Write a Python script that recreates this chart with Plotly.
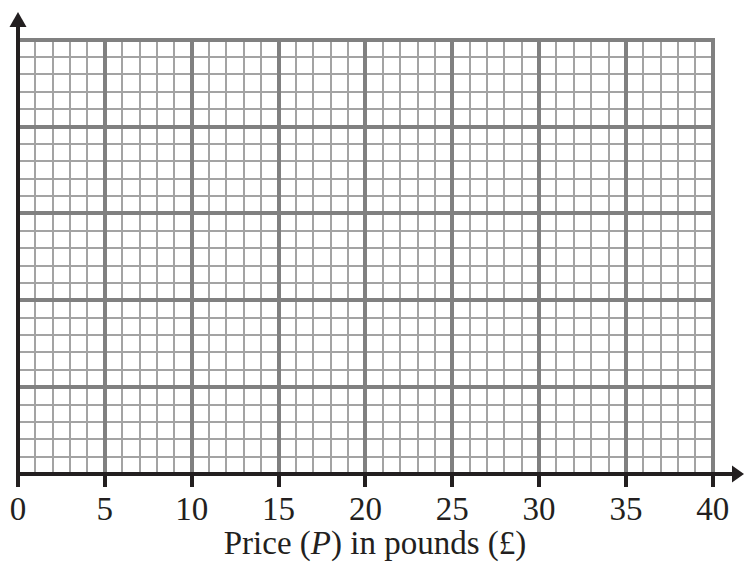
import plotly.graph_objects as go

# Price axis: labelled every £5 up to £40
price_ticks = [0, 5, 10, 15, 20, 25, 30, 35, 40]
price_labels = [str(v) for v in price_ticks]
x_title = "Price (<i>P</i>) in pounds (£)"

# Graph-paper extent: 40 small squares across, 25 up; bold line every 5 squares
grid_x_end = 40
grid_y_end = 25
major_step = 5
minor_step = 1

# Page geometry (pixels)
W, H = 744, 562
L, R, T, B = 16, 10, 27, 75
UNIT = 17.37          # pixels per small square
ORIGIN_X, ORIGIN_Y = 18, 474   # where (0, 0) sits on the page
INK = "#231f20"
AXIS_W = 4
MAJOR_GREY = "#808080"
MINOR_GREY = "#a3a3a3"
SERIF = "Liberation Serif"

plot_w = W - L - R
plot_h = H - T - B


def px_x(p):
    return (p - L) / plot_w


def px_y(p):
    return (H - B - p) / plot_h


# axis subplot: the zero lines act as the two axes
ax_x0 = -(ORIGIN_X - L) / UNIT
ax_x1 = ax_x0 + plot_w / UNIT
ax_y0 = -((H - B) - ORIGIN_Y) / UNIT
ax_y1 = ax_y0 + plot_h / UNIT
pad = 2 / UNIT  # keep the outer border lines fully inside the grid area

fig = go.Figure()
# grid subplot (drawn first) and axis subplot (drawn on top)
fig.add_trace(go.Scatter(x=[], y=[], xaxis="x", yaxis="y", showlegend=False, hoverinfo="skip"))
fig.add_trace(go.Scatter(x=[], y=[], xaxis="x2", yaxis="y2", showlegend=False, hoverinfo="skip"))

grid_common = dict(
    tick0=0, dtick=major_step,
    showgrid=True, gridcolor=MAJOR_GREY, gridwidth=4,
    minor=dict(tick0=0, dtick=minor_step, showgrid=True, gridcolor=MINOR_GREY, gridwidth=2),
    showticklabels=False, ticks="", zeroline=False, showline=False, fixedrange=True,
)

fig.update_layout(
    width=W, height=H,
    margin=dict(l=L, r=R, t=T, b=B, pad=0),
    paper_bgcolor="white", plot_bgcolor="rgba(0,0,0,0)",
    showlegend=False,
    xaxis=dict(
        domain=[px_x(ORIGIN_X), px_x(ORIGIN_X + (grid_x_end + pad) * UNIT)],
        range=[0, grid_x_end + pad], anchor="y", **grid_common,
    ),
    yaxis=dict(
        domain=[px_y(ORIGIN_Y), px_y(ORIGIN_Y - (grid_y_end + pad) * UNIT)],
        range=[0, grid_y_end + pad], anchor="x", **grid_common,
    ),
    xaxis2=dict(
        domain=[0, 1], range=[ax_x0, ax_x1], anchor="y2",
        showline=False, zeroline=True, zerolinecolor=INK, zerolinewidth=AXIS_W,
        ticks="inside", ticklen=(H - B) - ORIGIN_Y, tickwidth=AXIS_W, tickcolor=INK,
        tickmode="array", tickvals=price_ticks, ticktext=price_labels,
        tickfont=dict(family=SERIF, size=33, color=INK), ticklabelstandoff=-1,
        showgrid=False, fixedrange=True,
        title=dict(text=x_title, font=dict(family=SERIF, size=33, color=INK), standoff=3),
    ),
    yaxis2=dict(
        domain=[0, 1], range=[ax_y0, ax_y1], anchor="x2",
        showline=False, zeroline=True, zerolinecolor=INK, zerolinewidth=AXIS_W,
        ticks="", showticklabels=False, showgrid=False, fixedrange=True,
    ),
)

# arrow heads at the ends of both axes
arrow_len, arrow_half = 14, 8.5
tip_y, tip_x = 12, W
fig.add_shape(
    type="path", xref="paper", yref="paper", fillcolor=INK, line=dict(width=0),
    path=(f"M {px_x(ORIGIN_X)} {px_y(tip_y)} "
          f"L {px_x(ORIGIN_X - arrow_half)} {px_y(tip_y + arrow_len + 1)} "
          f"L {px_x(ORIGIN_X + arrow_half)} {px_y(tip_y + arrow_len + 1)} Z"),
)
fig.add_shape(
    type="path", xref="paper", yref="paper", fillcolor=INK, line=dict(width=0),
    path=(f"M {px_x(tip_x)} {px_y(ORIGIN_Y)} "
          f"L {px_x(tip_x - arrow_len + 2)} {px_y(ORIGIN_Y - arrow_half)} "
          f"L {px_x(tip_x - arrow_len + 2)} {px_y(ORIGIN_Y + arrow_half)} Z"),
)

fig.write_html("out.html", config={"displayModeBar": False})
